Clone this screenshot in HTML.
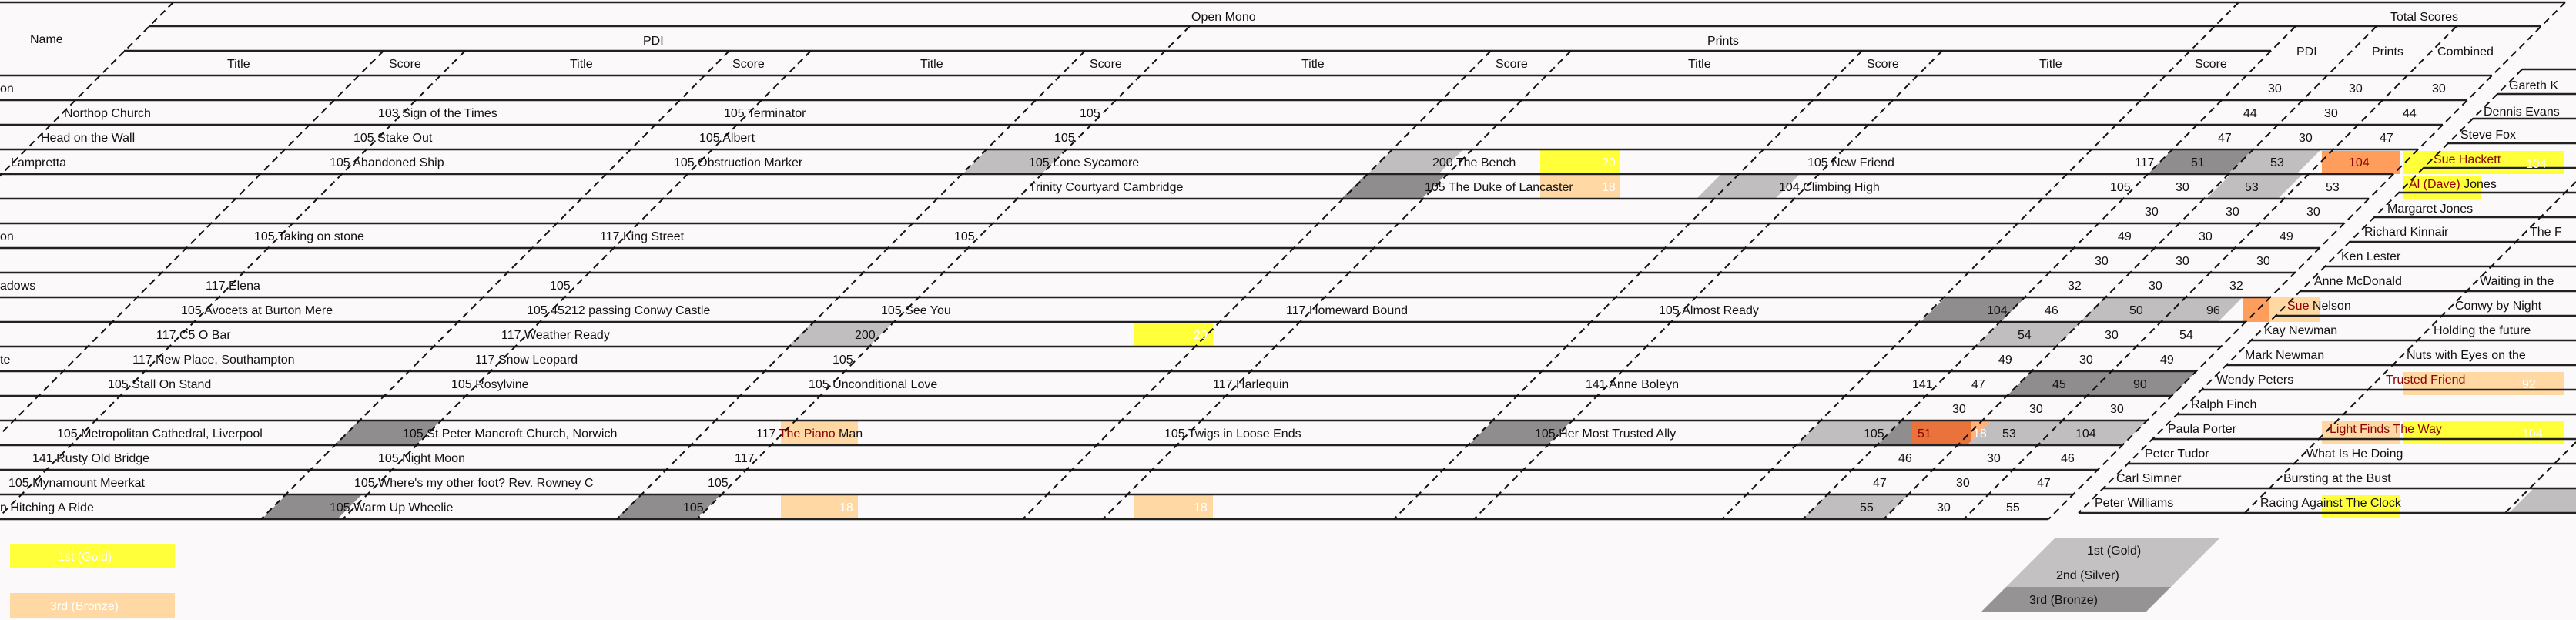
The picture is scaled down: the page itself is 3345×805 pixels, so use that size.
<!DOCTYPE html>
<html><head><meta charset="utf-8"><style>
html,body{margin:0;padding:0;background:#fbf9f9;}
svg{display:block;}
text{font-family:"Liberation Sans Narrow","Liberation Sans",sans-serif;font-size:16px;fill:#111;}
.w{fill:#fff;}
.r{fill:#8b0000;}
</style></head><body>
<svg width="3345" height="805" viewBox="0 0 3345 805" xmlns="http://www.w3.org/2000/svg">
<rect width="3345" height="805" fill="#fbf9f9"/>
<g>
<rect x="2000" y="194" width="104" height="32" fill="#ffff3a"/>
<rect x="3120" y="196" width="210" height="30" fill="#ffff3a"/>
<rect x="3120" y="228" width="102" height="30" fill="#ffff3a"/>
<rect x="1473" y="418" width="102" height="32" fill="#ffff3a"/>
<rect x="3120" y="547" width="210" height="30" fill="#ffff3a"/>
<rect x="3015" y="643" width="102" height="30" fill="#ffff3a"/>
<rect x="2000" y="226" width="104" height="32" fill="#ffd8a3"/>
<rect x="1014" y="546" width="100" height="32" fill="#ffd8a3"/>
<rect x="1014" y="642" width="100" height="32" fill="#ffd8a3"/>
<rect x="1473" y="642" width="102" height="32" fill="#ffd8a3"/>
<rect x="2560" y="546" width="26" height="32" fill="#ffb37a"/>
<rect x="2947" y="386" width="65" height="32" fill="#ffd8a3"/>
<rect x="3120" y="483" width="210" height="30" fill="#ffd8a3"/>
<rect x="3015" y="547" width="102" height="30" fill="#ffd8a3"/>
<rect x="3015" y="196" width="102" height="30" fill="#ff9d5c"/>
<rect x="2912" y="386" width="35" height="32" fill="#ff9d5c"/>
<rect x="2483" y="546" width="77" height="32" fill="#e9733a"/>
</g>
<g fill="#c0bebf">
<polygon points="1282,194 1384,194 1352,226 1250,226"/>
<polygon points="1808,194 1900,194 1868,226 1776,226"/>
<polygon points="2235,226 2337,226 2305,258 2203,258"/>
<polygon points="2897,226 2990,226 2958,258 2865,258"/>
<polygon points="2925,194 3014,194 2982,226 2893,226"/>
<polygon points="1055,418 1160,418 1128,450 1023,450"/>
<polygon points="2597,418 2702,418 2670,450 2565,450"/>
<polygon points="2733,386 2912,386 2880,418 2701,418"/>
<polygon points="2365,546 2470,546 2438,578 2333,578"/>
<polygon points="2586,546 2788,546 2756,578 2554,578"/>
<polygon points="2373,642 2478,642 2446,674 2341,674"/>
<polygon points="3290,634 3345,634 3345,666 3258,666"/>
</g>
<g fill="#8f8d8e">
<polygon points="1774,226 1878,226 1846,258 1742,258"/>
<polygon points="2821,194 2925,194 2893,226 2789,226"/>
<polygon points="2526,386 2630,386 2598,418 2494,418"/>
<polygon points="2638,482 2852,482 2820,514 2606,514"/>
<polygon points="466,546 572,546 540,578 434,578"/>
<polygon points="1939,546 2041,546 2009,578 1907,578"/>
<polygon points="2470,546 2483,546 2483,578 2438,578"/>
<polygon points="372,642 470,642 438,674 340,674"/>
<polygon points="832,642 936,642 904,674 800,674"/>
</g>
<g stroke="#222" stroke-width="2.5">
<line x1="0" y1="3" x2="3331" y2="3"/>
<line x1="193" y1="34" x2="3300" y2="34"/>
<line x1="161" y1="66" x2="2949" y2="66"/>
<line x1="0" y1="98" x2="3236" y2="98"/>
<line x1="0" y1="130" x2="3204" y2="130"/>
<line x1="0" y1="162" x2="3172" y2="162"/>
<line x1="0" y1="194" x2="3140" y2="194"/>
<line x1="0" y1="226" x2="3108" y2="226"/>
<line x1="0" y1="258" x2="3076" y2="258"/>
<line x1="0" y1="290" x2="3044" y2="290"/>
<line x1="0" y1="322" x2="3012" y2="322"/>
<line x1="0" y1="354" x2="2980" y2="354"/>
<line x1="0" y1="386" x2="2948" y2="386"/>
<line x1="0" y1="418" x2="2916" y2="418"/>
<line x1="0" y1="450" x2="2884" y2="450"/>
<line x1="0" y1="482" x2="2852" y2="482"/>
<line x1="0" y1="514" x2="2820" y2="514"/>
<line x1="0" y1="546" x2="2788" y2="546"/>
<line x1="0" y1="578" x2="2756" y2="578"/>
<line x1="0" y1="610" x2="2724" y2="610"/>
<line x1="0" y1="642" x2="2692" y2="642"/>
<line x1="0" y1="674" x2="2660" y2="674"/>
<line x1="3275" y1="90" x2="3345" y2="90"/>
<line x1="3243" y1="122" x2="3345" y2="122"/>
<line x1="3211" y1="154" x2="3345" y2="154"/>
<line x1="3179" y1="186" x2="3345" y2="186"/>
<line x1="3147" y1="218" x2="3345" y2="218"/>
<line x1="3115" y1="250" x2="3345" y2="250"/>
<line x1="3083" y1="282" x2="3345" y2="282"/>
<line x1="3051" y1="314" x2="3345" y2="314"/>
<line x1="3019" y1="346" x2="3345" y2="346"/>
<line x1="2987" y1="378" x2="3345" y2="378"/>
<line x1="2955" y1="410" x2="3345" y2="410"/>
<line x1="2923" y1="442" x2="3345" y2="442"/>
<line x1="2891" y1="474" x2="3345" y2="474"/>
<line x1="2859" y1="506" x2="3345" y2="506"/>
<line x1="2827" y1="538" x2="3345" y2="538"/>
<line x1="2795" y1="570" x2="3345" y2="570"/>
<line x1="2763" y1="602" x2="3345" y2="602"/>
<line x1="2731" y1="634" x2="3345" y2="634"/>
<line x1="2699" y1="666" x2="3345" y2="666"/>
</g>
<g stroke="#111" stroke-width="2" stroke-dasharray="9 6">
<line x1="225" y1="3" x2="-446" y2="674"/>
<line x1="498" y1="66" x2="-110" y2="674"/>
<line x1="604" y1="66" x2="-4" y2="674"/>
<line x1="947" y1="66" x2="339" y2="674"/>
<line x1="1053" y1="66" x2="445" y2="674"/>
<line x1="1409" y1="66" x2="801" y2="674"/>
<line x1="1545" y1="34" x2="905" y2="674"/>
<line x1="1936" y1="66" x2="1328" y2="674"/>
<line x1="2040" y1="66" x2="1432" y2="674"/>
<line x1="2418" y1="66" x2="1810" y2="674"/>
<line x1="2522" y1="66" x2="1914" y2="674"/>
<line x1="2907" y1="3" x2="2236" y2="674"/>
<line x1="2981" y1="34" x2="2341" y2="674"/>
<line x1="3086" y1="34" x2="2446" y2="674"/>
<line x1="3190" y1="34" x2="2550" y2="674"/>
<line x1="3331" y1="3" x2="2660" y2="674"/>
<line x1="3275" y1="90" x2="2699" y2="666"/>
<line x1="3345" y1="236" x2="2915" y2="666"/>
<line x1="3345" y1="574" x2="3253" y2="666"/>
</g>
<text x="39" y="56">Name</text>
<text x="1547" y="27">Open Mono</text>
<text x="3104" y="27">Total Scores</text>
<text x="835" y="58">PDI</text>
<text x="2217" y="58">Prints</text>
<text x="295" y="88">Title</text><text x="505" y="88">Score</text>
<text x="740" y="88">Title</text><text x="951" y="88">Score</text>
<text x="1195" y="88">Title</text><text x="1415" y="88">Score</text>
<text x="1690" y="88">Title</text><text x="1942" y="88">Score</text>
<text x="2192" y="88">Title</text><text x="2424" y="88">Score</text>
<text x="2648" y="88">Title</text><text x="2850" y="88">Score</text>
<text x="2982" y="72">PDI</text><text x="3080" y="72">Prints</text><text x="3165" y="72">Combined</text>
<text x="0" y="120">on</text>
<text x="2945" y="120">30</text><text x="3050" y="120">30</text><text x="3158" y="120">30</text>
<text x="83" y="152">Northop Church</text>
<text x="491" y="152">103 Sign of the Times</text>
<text x="940" y="152">105 Terminator</text>
<text x="1402" y="152">105</text>
<text x="2913" y="152">44</text><text x="3018" y="152">30</text><text x="3120" y="152">44</text>
<text x="53" y="184">Head on the Wall</text>
<text x="459" y="184">105 Stake Out</text>
<text x="908" y="184">105 Albert</text>
<text x="1369" y="184">105</text>
<text x="2880" y="184">47</text><text x="2985" y="184">30</text><text x="3090" y="184">47</text>
<text x="14" y="216">Lampretta</text>
<text x="428" y="216">105 Abandoned Ship</text>
<text x="875" y="216">105 Obstruction Marker</text>
<text x="1336" y="216">105 Lone Sycamore</text>
<text x="1860" y="216">200 The Bench</text>
<text x="2080" y="216" class="w">20</text>
<text x="2347" y="216">105 New Friend</text>
<text x="2772" y="216">117</text><text x="2845" y="216">51</text><text x="2948" y="216">53</text><text x="3050" y="216" class="r">104</text>
<text x="1336" y="248">Trinity Courtyard Cambridge</text>
<text x="1850" y="248">105 The Duke of Lancaster</text>
<text x="2080" y="248" class="w">18</text>
<text x="2310" y="248">104 Climbing High</text>
<text x="2740" y="248">105</text><text x="2825" y="248">30</text><text x="2915" y="248">53</text><text x="3020" y="248">53</text>
<text x="2785" y="280">30</text><text x="2890" y="280">30</text><text x="2995" y="280">30</text>
<text x="0" y="312">on</text>
<text x="330" y="312">105 Taking on stone</text>
<text x="779" y="312">117 King Street</text>
<text x="1239" y="312">105</text>
<text x="2750" y="312">49</text><text x="2855" y="312">30</text><text x="2960" y="312">49</text>
<text x="2720" y="344">30</text><text x="2825" y="344">30</text><text x="2930" y="344">30</text>
<text x="0" y="376">adows</text>
<text x="267" y="376">117 Elena</text>
<text x="714" y="376">105</text>
<text x="2685" y="376">32</text><text x="2790" y="376">30</text><text x="2895" y="376">32</text>
<text x="235" y="408">105 Avocets at Burton Mere</text>
<text x="684" y="408">105 45212 passing Conwy Castle</text>
<text x="1144" y="408">105 See You</text>
<text x="1670" y="408">117 Homeward Bound</text>
<text x="2154" y="408">105 Almost Ready</text>
<text x="2580" y="408">104</text><text x="2655" y="408">46</text><text x="2765" y="408">50</text><text x="2865" y="408">96</text>
<text x="203" y="440">117 C5 O Bar</text>
<text x="651" y="440">117 Weather Ready</text>
<text x="1110" y="440">200</text>
<text x="1550" y="440" class="w">20</text>
<text x="2620" y="440">54</text><text x="2733" y="440">30</text><text x="2830" y="440">54</text>
<text x="0" y="472">te</text>
<text x="172" y="472">117 New Place, Southampton</text>
<text x="617" y="472">117 Snow Leopard</text>
<text x="1081" y="472">105</text>
<text x="2595" y="472">49</text><text x="2700" y="472">30</text><text x="2805" y="472">49</text>
<text x="140" y="504">105 Stall On Stand</text>
<text x="586" y="504">105 Rosylvine</text>
<text x="1050" y="504">105 Unconditional Love</text>
<text x="1575" y="504">117 Harlequin</text>
<text x="2059" y="504">141 Anne Boleyn</text>
<text x="2483" y="504">141</text><text x="2560" y="504">47</text><text x="2665" y="504">45</text><text x="2770" y="504">90</text>
<text x="2535" y="536">30</text><text x="2635" y="536">30</text><text x="2740" y="536">30</text>
<text x="74" y="568">105 Metropolitan Cathedral, Liverpool</text>
<text x="523" y="568">105 St Peter Mancroft Church, Norwich</text>
<text x="982" y="568">117 <tspan class="r">The Piano</tspan> Man</text>
<text x="1512" y="568">105 Twigs in Loose Ends</text>
<text x="1993" y="568">105 Her Most Trusted Ally</text>
<text x="2420" y="568">105</text><text x="2490" y="568" class="r">51</text><text x="2562" y="568" class="w">18</text>
<text x="2600" y="568">53</text><text x="2695" y="568">104</text>
<text x="42" y="600">141 Rusty Old Bridge</text>
<text x="491" y="600">105 Night Moon</text>
<text x="954" y="600">117</text>
<text x="2465" y="600">46</text><text x="2580" y="600">30</text><text x="2676" y="600">46</text>
<text x="11" y="632">105 Mynamount Meerkat</text>
<text x="460" y="632">105 Where's my other foot? Rev. Rowney C</text>
<text x="919" y="632">105</text>
<text x="2432" y="632">47</text><text x="2540" y="632">30</text><text x="2645" y="632">47</text>
<text x="0" y="664">n Hitching A Ride</text>
<text x="428" y="664">105 Warm Up Wheelie</text>
<text x="887" y="664">105</text>
<text x="1090" y="664" class="w">18</text>
<text x="1550" y="664" class="w">18</text>
<text x="2415" y="664">55</text><text x="2515" y="664">30</text><text x="2605" y="664">55</text>
<text x="3258" y="116">Gareth K</text>
<text x="3225" y="150">Dennis Evans</text>
<text x="3195" y="180">Steve Fox</text>
<text x="3160" y="212" class="r">Sue Hackett</text><text x="3280" y="218" class="w">104</text>
<text x="3128" y="244"><tspan class="r">Al (Dave)</tspan> Jones</text>
<text x="3100" y="276">Margaret Jones</text>
<text x="3070" y="306">Richard Kinnair</text><text x="3285" y="306">The F</text>
<text x="3040" y="338">Ken Lester</text>
<text x="3005" y="370">Anne McDonald</text><text x="3220" y="370">Waiting in the</text>
<text x="2970" y="402"><tspan class="r">Sue</tspan> Nelson</text><text x="3188" y="402">Conwy by Night</text>
<text x="2940" y="434">Kay Newman</text><text x="3160" y="434">Holding the future</text>
<text x="2915" y="466">Mark Newman</text><text x="3125" y="466">Nuts with Eyes on the</text>
<text x="2878" y="498">Wendy Peters</text><text x="3098" y="498" class="r">Trusted Friend</text><text x="3275" y="504" class="w">92</text>
<text x="2845" y="530">Ralph Finch</text>
<text x="2815" y="562">Paula Porter</text><text x="3025" y="562" class="r">Light Finds The Way</text><text x="3275" y="568" class="w">104</text>
<text x="2785" y="594">Peter Tudor</text><text x="2995" y="594">What Is He Doing</text>
<text x="2748" y="626">Carl Simner</text><text x="2965" y="626">Bursting at the Bust</text>
<text x="2720" y="658">Peter Williams</text><text x="2935" y="658">Racing Against The Clock</text>
<rect x="13" y="706" width="214" height="32" fill="#ffff3a"/>
<text x="75" y="728" class="w">1st (Gold)</text>
<rect x="13" y="770" width="214" height="33" fill="#ffd8a3"/>
<text x="65" y="792" class="w">3rd (Bronze)</text>
<polygon points="2669,698 2883,698 2851,730 2637,730" fill="#c3c1c2"/>
<polygon points="2637,730 2851,730 2819,762 2605,762" fill="#c3c1c2"/>
<polygon points="2605,762 2819,762 2787,794 2573,794" fill="#959394"/>
<text x="2710" y="720">1st (Gold)</text>
<text x="2670" y="752">2nd (Silver)</text>
<text x="2635" y="784">3rd (Bronze)</text>
</svg>
</body></html>
